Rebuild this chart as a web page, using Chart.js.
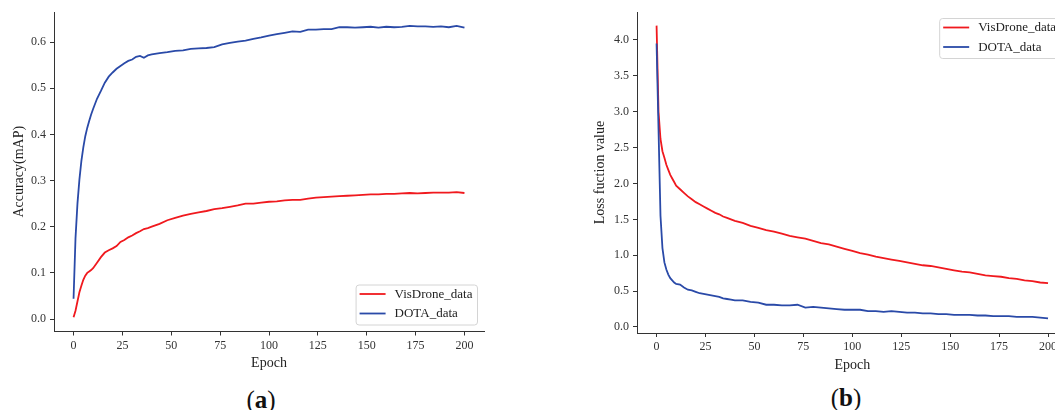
<!DOCTYPE html>
<html><head><meta charset="utf-8">
<script src="https://cdn.jsdelivr.net/npm/chart.js@4/dist/chart.umd.min.js"></script>
<style>
html,body{margin:0;padding:0;background:#fff;width:1055px;height:410px;overflow:hidden;position:relative;}
canvas{position:absolute;top:0;}
#ca{left:0;} #cb{left:580px;}
.lab{position:absolute;width:100px;text-align:center;font:25px 'Liberation Serif',serif;color:#111;line-height:28px;}
</style></head><body>
<canvas id="ca" width="500" height="380"></canvas>
<canvas id="cb" width="500" height="380"></canvas>
<div class="lab" style="left:211px;top:386px">(<b>a</b>)</div>
<div class="lab" style="left:796px;top:384px">(<b>b</b>)</div>
<script>
const epochs = [0,1,2,3,4,5,6,7,8,9,10,12,14,16,18,20,22,24,26,28,30,32,34,36,38,40,44,48,52,56,60,64,68,72,76,80,84,88,92,96,100,104,108,112,116,120,124,128,132,136,140,144,148,152,156,160,164,168,172,176,180,184,188,192,196,200];

const seriesNames = ['VisDrone_data','DOTA_data'];
const seriesColors = ['#f0191e','#2a4aa8'];

const accVisDrone = [0.004,0.018,0.038,0.058,0.072,0.085,0.094,0.100,0.103,0.106,0.110,0.122,0.134,0.144,0.149,0.153,0.158,0.167,0.171,0.177,0.181,0.186,0.190,0.195,0.197,0.200,0.206,0.214,0.219,0.224,0.228,0.231,0.234,0.238,0.240,0.243,0.246,0.250,0.250,0.252,0.254,0.255,0.257,0.258,0.258,0.261,0.263,0.264,0.265,0.266,0.267,0.268,0.269,0.270,0.270,0.271,0.271,0.272,0.273,0.272,0.273,0.274,0.274,0.274,0.275,0.273];
const accDOTA = [0.044,0.175,0.250,0.302,0.342,0.372,0.396,0.414,0.429,0.443,0.455,0.477,0.494,0.512,0.525,0.534,0.542,0.548,0.554,0.559,0.562,0.568,0.570,0.566,0.571,0.573,0.576,0.578,0.581,0.582,0.585,0.586,0.587,0.589,0.595,0.598,0.601,0.603,0.607,0.610,0.614,0.617,0.620,0.623,0.622,0.627,0.627,0.628,0.628,0.632,0.632,0.631,0.632,0.633,0.631,0.633,0.632,0.633,0.635,0.634,0.634,0.633,0.634,0.632,0.635,0.631];

const lossVisDrone = [4.20,3.00,2.62,2.45,2.36,2.26,2.19,2.12,2.07,2.02,1.97,1.92,1.87,1.82,1.78,1.74,1.71,1.68,1.65,1.62,1.59,1.57,1.54,1.52,1.50,1.48,1.45,1.41,1.38,1.35,1.33,1.30,1.27,1.25,1.23,1.20,1.17,1.15,1.12,1.09,1.06,1.03,1.01,0.98,0.96,0.94,0.92,0.90,0.88,0.86,0.85,0.83,0.81,0.79,0.77,0.76,0.74,0.72,0.71,0.70,0.68,0.67,0.65,0.64,0.62,0.61];
const lossDOTA = [3.95,2.75,1.55,1.10,0.90,0.80,0.73,0.68,0.65,0.62,0.60,0.59,0.55,0.52,0.51,0.49,0.47,0.46,0.45,0.44,0.43,0.42,0.40,0.39,0.38,0.37,0.37,0.35,0.34,0.31,0.31,0.30,0.30,0.31,0.27,0.28,0.27,0.26,0.25,0.24,0.24,0.24,0.22,0.22,0.21,0.22,0.21,0.20,0.20,0.19,0.19,0.18,0.18,0.17,0.17,0.17,0.16,0.16,0.15,0.15,0.15,0.14,0.14,0.14,0.13,0.12];

const xTicks = [0,25,50,75,100,125,150,175,200];
const yTicksAcc = [0.0,0.1,0.2,0.3,0.4,0.5,0.6];
const yTicksLoss = [0.0,0.5,1.0,1.5,2.0,2.5,3.0,3.5,4.0];

Chart.defaults.font.family = "'Liberation Serif', serif";
Chart.defaults.font.size = 12;
Chart.defaults.color = '#333';

const boxLegend = {
  id: 'boxLegend',
  afterDatasetsDraw(chart, args, opts) {
    const {ctx, chartArea: ca} = chart;
    ctx.save();
    ctx.font = "13px 'Liberation Serif', serif";
    const items = chart.data.datasets.map(d => ({label: d.label, color: d.borderColor}));
    const textW = Math.max(...items.map(i => ctx.measureText(i.label).width));
    const w = 3.5 + 26 + 9 + textW + 5;
    const h = 40;
    const x = ca.right - opts.inset - w;
    const y = opts.corner === 'lower' ? ca.bottom - opts.inset - h : ca.top + opts.inset;
    ctx.beginPath();
    ctx.roundRect(x, y, w, h, 3);
    ctx.fillStyle = 'rgba(255,255,255,0.85)';
    ctx.fill();
    ctx.strokeStyle = '#d4d4d4';
    ctx.lineWidth = 1;
    ctx.stroke();
    items.forEach((it, i) => {
      const cy = y + 9 + i * 19.5;
      ctx.beginPath();
      ctx.moveTo(x + 3.5, cy);
      ctx.lineTo(x + 29.5, cy);
      ctx.strokeStyle = it.color;
      ctx.lineWidth = 1.8;
      ctx.stroke();
      ctx.fillStyle = '#222';
      ctx.textBaseline = 'middle';
      ctx.textAlign = 'left';
      ctx.fillText(it.label, x + 38.5, cy + 0.5);
    });
    ctx.restore();
  }
};

function makeChart(id, seriesA, seriesB, yTicks, yMin, yMax, yTitle, cfg) {
  const toPts = arr => epochs.map((e, i) => ({x: e, y: arr[i]}));
  return new Chart(document.getElementById(id), {
    type: 'line',
    data: {
      datasets: [
        {label: seriesNames[0], data: toPts(seriesA), borderColor: seriesColors[0], borderWidth: 1.8, pointRadius: 0, tension: 0, order: 1},
        {label: seriesNames[1], data: toPts(seriesB), borderColor: seriesColors[1], borderWidth: 1.8, pointRadius: 0, tension: 0, order: 0}
      ]
    },
    options: {
      responsive: false,
      animation: false,
      devicePixelRatio: 1,
      layout: {padding: {top: 12, right: cfg.padRight, bottom: 0, left: 0}},
      plugins: {
        legend: {display: false},
        tooltip: {enabled: false},
        boxLegend: {corner: cfg.corner, inset: 6.5}
      },
      scales: {
        x: {
          type: 'linear', min: -10, max: 210,
          afterBuildTicks: s => { s.ticks = xTicks.map(v => ({value: v})); },
          afterFit: s => { s.height = cfg.xHeight; },
          ticks: {padding: 3, maxRotation: 0, callback: v => String(v), color: '#333'},
          grid: {drawOnChartArea: false, drawTicks: true, tickLength: 4, color: '#333'},
          border: {display: true, color: '#333', width: 1},
          title: {display: true, text: 'Epoch', font: {size: 14}, color: '#222', padding: {top: 0, bottom: cfg.xTitlePad}}
        },
        y: {
          type: 'linear', min: yMin, max: yMax,
          afterBuildTicks: s => { s.ticks = yTicks.map(v => ({value: v})); },
          afterFit: s => { s.width = cfg.yWidth; },
          ticks: {padding: 4, callback: v => Number(v).toFixed(1), color: '#333'},
          grid: {drawOnChartArea: false, drawTicks: true, tickLength: 4, color: '#333'},
          border: {display: true, color: '#333', width: 1},
          title: {display: true, text: yTitle, font: {size: 14}, color: '#222', padding: {top: cfg.yTitlePad, bottom: 0}}
        }
      }
    },
    plugins: [boxLegend]
  });
}

makeChart('ca', accVisDrone, accDOTA, yTicksAcc, -0.027, 0.665, 'Accuracy(mAP)',
  {padRight: 16, xHeight: 48.5, yWidth: 54, xTitlePad: 8.6, yTitlePad: 10.5, corner: 'lower'});
makeChart('cb', lossVisDrone, lossDOTA, yTicksLoss, -0.084, 4.39, 'Loss fuction value',
  {padRight: 12.4, xHeight: 47, yWidth: 57, xTitlePad: 6.6, yTitlePad: 11.6, corner: 'upper'});
</script>
</body></html>
